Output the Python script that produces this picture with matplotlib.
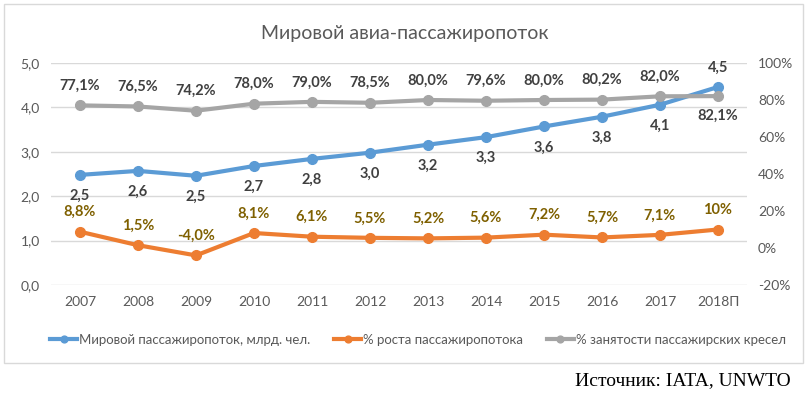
import matplotlib.pyplot as plt
from matplotlib.patches import Rectangle
from matplotlib.ticker import FuncFormatter

plt.rcParams['font.family'] = ['Lato', 'DejaVu Sans']

years = ["2007", "2008", "2009", "2010", "2011", "2012", "2013", "2014", "2015", "2016", "2017", "2018П"]
passengers = [2.48, 2.57, 2.46, 2.68, 2.84, 2.98, 3.16, 3.33, 3.57, 3.79, 4.06, 4.46]
growth = [8.8, 1.5, -4.0, 8.1, 6.1, 5.5, 5.2, 5.6, 7.2, 5.7, 7.1, 10]
load_factor = [77.1, 76.5, 74.2, 78.0, 79.0, 78.5, 80.0, 79.6, 80.0, 80.2, 82.0, 82.1]

blue = "#5B9BD5"
orange = "#ED7D31"
gray = "#A5A5A5"
tick_col = "#595959"

fig = plt.figure(figsize=(8.09, 3.96), dpi=100)
fig.patches.append(Rectangle((4 / 809, 1 - 363 / 396), 799 / 809, 359 / 396,
                             transform=fig.transFigure, fill=False,
                             edgecolor="#D9D9D9", linewidth=1))

ax = fig.add_axes([51 / 809, 1 - 285 / 396, 696 / 809, 222 / 396])
ax2 = ax.twinx()
x = list(range(len(years)))

ax.set_ylim(0, 5)
ax.set_yticks([0, 1, 2, 3, 4, 5])
ax.yaxis.set_major_formatter(FuncFormatter(lambda v, p: f"{v:.1f}".replace(".", ",")))
ax2.set_ylim(-20, 100)
ax2.set_yticks([-20, 0, 20, 40, 60, 80, 100])
ax2.yaxis.set_major_formatter(FuncFormatter(lambda v, p: f"{v:.0f}%"))
ax.set_xlim(-0.5, len(years) - 0.5)
ax.set_xticks(x)
ax.set_xticklabels(years)
ax.grid(axis="y", color="#D9D9D9", linewidth=1)
ax.set_axisbelow(True)

for a in (ax, ax2):
    for s in a.spines.values():
        s.set_visible(False)
    a.tick_params(length=0, labelsize=10, labelcolor=tick_col)
ax.tick_params(axis="x", pad=8)
ax.tick_params(axis="y", pad=8)
ax2.tick_params(axis="y", pad=8)

l1, = ax.plot(x, passengers, color=blue, lw=3, marker="o", ms=7, zorder=3,
              label="Мировой пассажиропоток, млрд. чел.")
l2, = ax2.plot(x, growth, color=orange, lw=3, marker="o", ms=7, zorder=3,
               label="% роста пассажиропотока")
l3, = ax2.plot(x, load_factor, color=gray, lw=3, marker="o", ms=7, zorder=2,
               label="% занятости пассажирских кресел")

lab = dict(fontsize=10.5, fontweight="bold", ha="center")
for i, v in enumerate(passengers):
    txt = f"{v:.1f}".replace(".", ",")
    if i == len(passengers) - 1:
        ax.annotate(txt, (i, v), xytext=(0, 9), textcoords="offset points", va="bottom", color="#404040", **lab)
    else:
        ax.annotate(txt, (i, v), xytext=(0, -10), textcoords="offset points", va="top", color="#404040", **lab)
for i, v in enumerate(growth):
    txt = f"{v:g}%" if v == int(v) and abs(v) >= 10 else f"{v:.1f}%".replace(".", ",")
    ax2.annotate(txt, (i, v), xytext=(0, 9), textcoords="offset points", va="bottom", color="#7F6000", **lab)
for i, v in enumerate(load_factor):
    txt = f"{v:.1f}%".replace(".", ",")
    if i == len(load_factor) - 1:
        ax2.annotate(txt, (i, v), xytext=(0, -9), textcoords="offset points", va="top", color="#404040", **lab)
    else:
        ax2.annotate(txt, (i, v), xytext=(0, 9), textcoords="offset points", va="bottom", color="#404040", **lab)

fig.text(0.5, 1 - 34 / 396, "Мировой авиа-пассажиропоток", ha="center", va="center",
         fontsize=14, color="#595959")
fig.legend(handles=[l1, l2, l3], loc="center", bbox_to_anchor=(0.517, 1 - 340 / 396),
           ncol=3, frameon=False, fontsize=9.5, handlelength=2.0, handletextpad=0.2,
           columnspacing=1.8, markerscale=0.7, labelcolor=tick_col)
fig.text(0.977, 1 - 381 / 396, "Источник: IATA, UNWTO", ha="right", va="center",
         fontsize=14, family=["Liberation Serif", "DejaVu Serif"], color="black")

fig.savefig("out.png", dpi=100)
